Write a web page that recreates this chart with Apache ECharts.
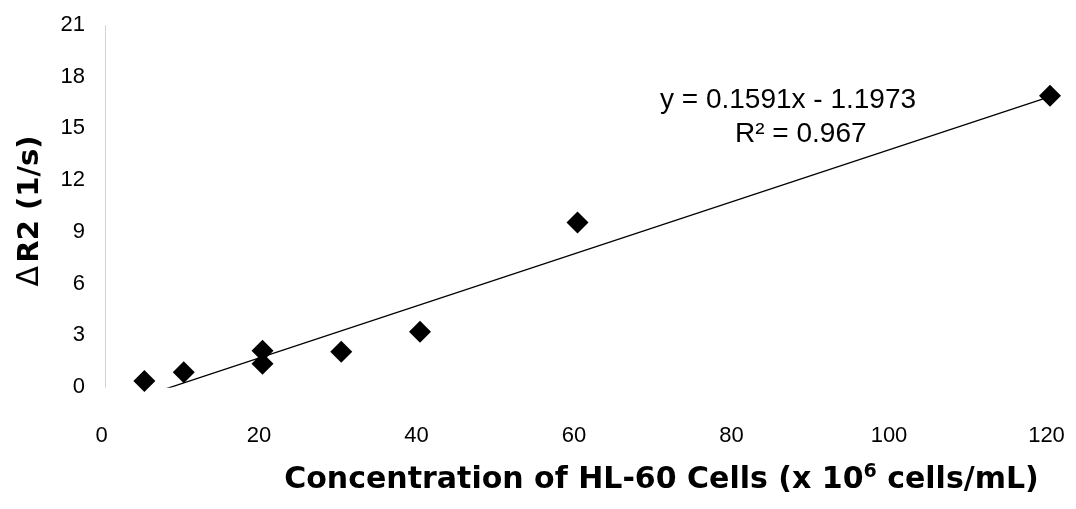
<!DOCTYPE html>
<html>
<head>
<meta charset="utf-8">
<script src="https://cdn.jsdelivr.net/npm/echarts@6/dist/echarts.min.js"></script>
<style>html,body{margin:0;padding:0;background:#fff}#c{width:1076px;height:509px}</style>
</head>
<body>
<div id="c"></div>
<script>
const concentration = [5, 10, 20, 20, 30, 40, 60, 120];
const deltaR2 = [0.35, 0.85, 2.1, 1.35, 2.05, 3.2, 9.55, 16.9];
const trendX = [7.3, 120];
const trendY = [-0.17, 16.85];
const xTicks = [0, 20, 40, 60, 80, 100, 120];
const yTicks = [0, 3, 6, 9, 12, 15, 18, 21];
const equationText = 'y = 0.1591x - 1.1973';
const r2Text = 'R² = 0.967';

const font = '"Liberation Sans", Arial, sans-serif';
const titleFont = '"DejaVu Sans", "Liberation Sans", sans-serif';
const chart = echarts.init(document.getElementById('c'));
chart.setOption({
  animation: false,
  backgroundColor: '#fff',
  grid: { left: 105, right: 26, top: 25, bottom: 122, containLabel: false },
  xAxis: {
    type: 'value', min: xTicks[0], max: xTicks[xTicks.length - 1], interval: 20,
    axisLine: { show: false }, axisTick: { show: false }, splitLine: { show: false },
    axisLabel: { color: '#000', fontSize: 22, fontFamily: font, margin: 38, padding: [0, 7, 0, 0] },
    name: '{t|Concentration of HL-60 Cells (x 10}{s|6}{t| cells/mL)}',
    nameLocation: 'middle', nameGap: 76,
    nameTextStyle: {
      padding: [0, 0, 0, 168],
      rich: {
        t: { fontSize: 30, fontWeight: 'bold', fontFamily: titleFont, color: '#000' },
        s: { fontSize: 19, fontWeight: 'bold', fontFamily: titleFont, color: '#000', verticalAlign: 'top', padding: [0, 0, 15, 0] }
      }
    }
  },
  yAxis: {
    type: 'value', min: yTicks[0], max: yTicks[yTicks.length - 1], interval: 3,
    axisLine: { show: true, lineStyle: { color: '#c8c8c8', type: 'dotted', width: 1 } },
    axisTick: { show: false }, splitLine: { show: false },
    axisLabel: { color: '#000', fontSize: 22, fontFamily: font, margin: 20 },
    name: '{d|Δ} {t|R2 (1/s)}', nameLocation: 'middle', nameGap: 60, nameRotate: 90,
    nameTextStyle: {
      padding: [0, 10, 0, 0],
      rich: {
        d: { fontSize: 30, fontWeight: 'normal', fontFamily: titleFont, color: '#000' },
        t: { fontSize: 29, fontWeight: 'bold', fontFamily: titleFont, color: '#000' }
      }
    }
  },
  series: [
    {
      type: 'line', data: trendX.map((x, i) => [x, trendY[i]]),
      symbol: 'none', lineStyle: { color: '#000', width: 1.3 }, z: 1
    },
    {
      type: 'scatter', data: concentration.map((x, i) => [x, deltaR2[i]]),
      symbol: 'diamond', symbolSize: 22,
      itemStyle: { color: '#000', opacity: 1 }, z: 2
    }
  ],
  graphic: [
    { type: 'text', left: 660, top: 86, style: { text: equationText, font: '28px ' + font, fill: '#000' } },
    { type: 'text', left: 735, top: 120, style: { text: r2Text, font: '28px ' + font, fill: '#000' } }
  ]
});
</script>
</body>
</html>
